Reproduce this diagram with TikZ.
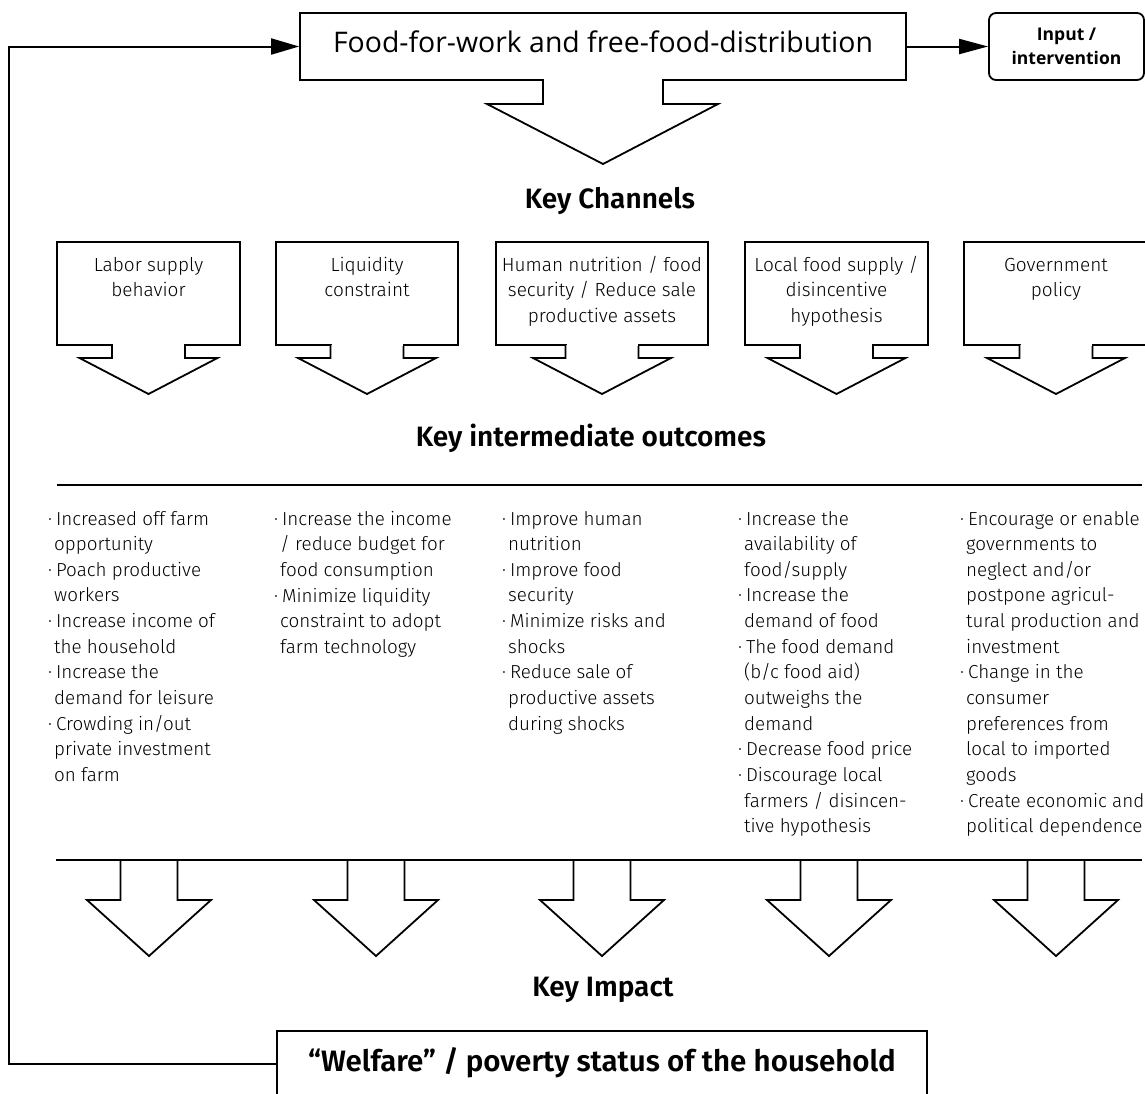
\documentclass[tikz,border=0pt]{standalone}
\usepackage{fontspec}
\usetikzlibrary{arrows.meta}
\IfFontExistsTF{Fira Sans Light}{%
  \IfFontExistsTF{Fira Sans SemiBold}{\setmainfont{Fira Sans Light}[BoldFont={Fira Sans SemiBold}]}{\setmainfont{Fira Sans Light}[BoldFont={Fira Sans Bold}]}%
}{\setmainfont{Fira Sans}}
\newfontfamily\topfont{Open Sans}
\newcommand\bu{·\hspace{4pt}}
\newcommand\ci{\hspace*{6pt}}
\begin{document}
\begin{tikzpicture}[x=1pt,y=-1pt,
  box/.style={draw, line width=1.8pt, inner sep=0pt},
  arrowshape/.style={draw, line width=1.8pt, fill=white, line join=miter},
  sepline/.style={line width=2.6pt},
  cover/.style={white, line width=2.6pt},
  chtext/.style={align=center, inner sep=0pt, font=\fontsize{19pt}{25.5pt}\selectfont},
  head/.style={inner sep=0pt, font=\fontsize{28pt}{32pt}\selectfont\bfseries},
  col/.style={anchor=base west, align=left, inner sep=0pt, font=\fontsize{18.8pt}{25.65pt}\selectfont},
  link/.style={line width=2pt},
]
\useasboundingbox (0,0) rectangle (1145,1093);

% top box and its arrow
\node[box, minimum width=606pt, minimum height=67pt] (food) at (603,46.5) {};
\node[anchor=base, inner sep=0pt, font=\topfont\fontsize{28.4pt}{32pt}\selectfont] (foodtxt) at (603,52) {Food-for-work and free-food-distribution};
\draw[arrowshape] (543,80) -- (543,104) -- (487,104) -- (603,164) -- (718,104) -- (663,104) -- (663,80);
\draw[cover] (544,80) -- (662,80);

% input box
\node[box, rounded corners=7pt, minimum width=155pt, minimum height=67pt, align=center,
      font=\topfont\bfseries\fontsize{17.5pt}{24pt}\selectfont] (input) at (1066.5,46.5) {Input /\\intervention};
\draw[link, -{Triangle[length=29pt,width=15pt]}] (food.east) -- (input.west);

% headings
\node[head, anchor=base] (kc) at (610,208) {Key Channels};
\node[head, anchor=base] (kio) at (591,446) {Key intermediate outcomes};
\node[head, anchor=base] (ki) at (603,996) {Key Impact};

% channel boxes
\node[box, minimum width=183pt, minimum height=103pt] (ch1) at (148.5,293.5) {};
\node[box, minimum width=182pt, minimum height=103pt] (ch2) at (367,293.5) {};
\node[box, minimum width=212pt, minimum height=103pt] (ch3) at (602,293.5) {};
\node[box, minimum width=183pt, minimum height=103pt] (ch4) at (836.5,293.5) {};
\node[box, minimum width=184pt, minimum height=103pt] (ch5) at (1056,293.5) {};
% base anchor of a multi-line node = last line's baseline
\node[chtext, anchor=base] (ch1t) at (148.5,296.5) {Labor supply\\behavior};
\node[chtext, anchor=base] (ch2t) at (367,296.5) {Liquidity\\constraint};
\node[chtext, anchor=base] (ch3t) at (602,322) {Human nutrition / food\\security / Reduce sale\\productive assets};
\node[chtext, anchor=base] (ch4t) at (836.5,322) {Local food supply /\\disincentive\\hypothesis};
\node[chtext, anchor=base] (ch5t) at (1056,296.5) {Government\\policy};
\foreach \c in {148.5,367,602,836.5,1056}{
  \draw[arrowshape] (\c-36.5,345) -- (\c-36.5,358) -- (\c-69,358) -- (\c,394) -- (\c+69,358) -- (\c+36.5,358) -- (\c+36.5,345);
  \draw[cover] (\c-35.5,345) -- (\c+35.5,345);
}

% separator line
\draw[sepline] (57,485) -- (1142,485);

% outcome columns (anchored at the last line's baseline)
\node[col] (c1) at (48,781.5) {\bu Increased off farm\\\ci opportunity\\\bu Poach productive\\\ci workers\\\bu Increase income of\\\ci the household\\\bu Increase the\\\ci demand for leisure\\\bu Crowding in/out\\\ci private investment\\\ci on farm};
\node[col] (c2) at (274,653.3) {\bu Increase the income\\\ci / reduce budget for\\\ci food consumption\\\bu Minimize liquidity\\\ci constraint to adopt\\\ci farm technology};
\node[col] (c3) at (502,730.2) {\bu Improve human\\\ci nutrition\\\bu Improve food\\\ci security\\\bu Minimize risks and\\\ci shocks\\\bu Reduce sale of\\\ci productive assets\\\ci during shocks};
\node[col] (c4) at (738,832.8) {\bu Increase the\\\ci availability of\\\ci food/supply\\\bu Increase the\\\ci demand of food\\\bu The food demand\\\ci (b/c food aid)\\\ci outweighs the\\\ci demand\\\bu Decrease food price\\\bu Discourage local\\\ci farmers / disincen-\\\ci tive hypothesis};
\node[col] (c5) at (960,832.8) {\bu Encourage or enable\\\ci governments to\\\ci neglect and/or\\\ci postpone agricul-\\\ci tural production and\\\ci investment\\\bu Change in the\\\ci consumer\\\ci preferences from\\\ci local to imported\\\ci goods\\\bu Create economic and\\\ci political dependence};

% impact arrows
\foreach \c in {149,376,602,829,1056}{
  \draw[arrowshape] (\c-28.5,860) -- (\c-28.5,900) -- (\c-62,900) -- (\c,956) -- (\c+62,900) -- (\c+28.5,900) -- (\c+28.5,860);
}
\draw[sepline] (56,860) -- (1142,860);

% welfare box
\node[box, minimum width=650pt, minimum height=65pt] (welfare) at (602,1063.5) {};
\node[anchor=base, inner sep=0pt, font=\fontsize{29.5pt}{32pt}\selectfont\bfseries] (welfaretxt) at (602,1071) {“Welfare” / poverty status of the household};

% feedback loop
\draw[link, -{Triangle[length=28pt,width=16pt]}] (welfare.west) -- ++(-267,0) |- (food.west);
\end{tikzpicture}
\end{document}
